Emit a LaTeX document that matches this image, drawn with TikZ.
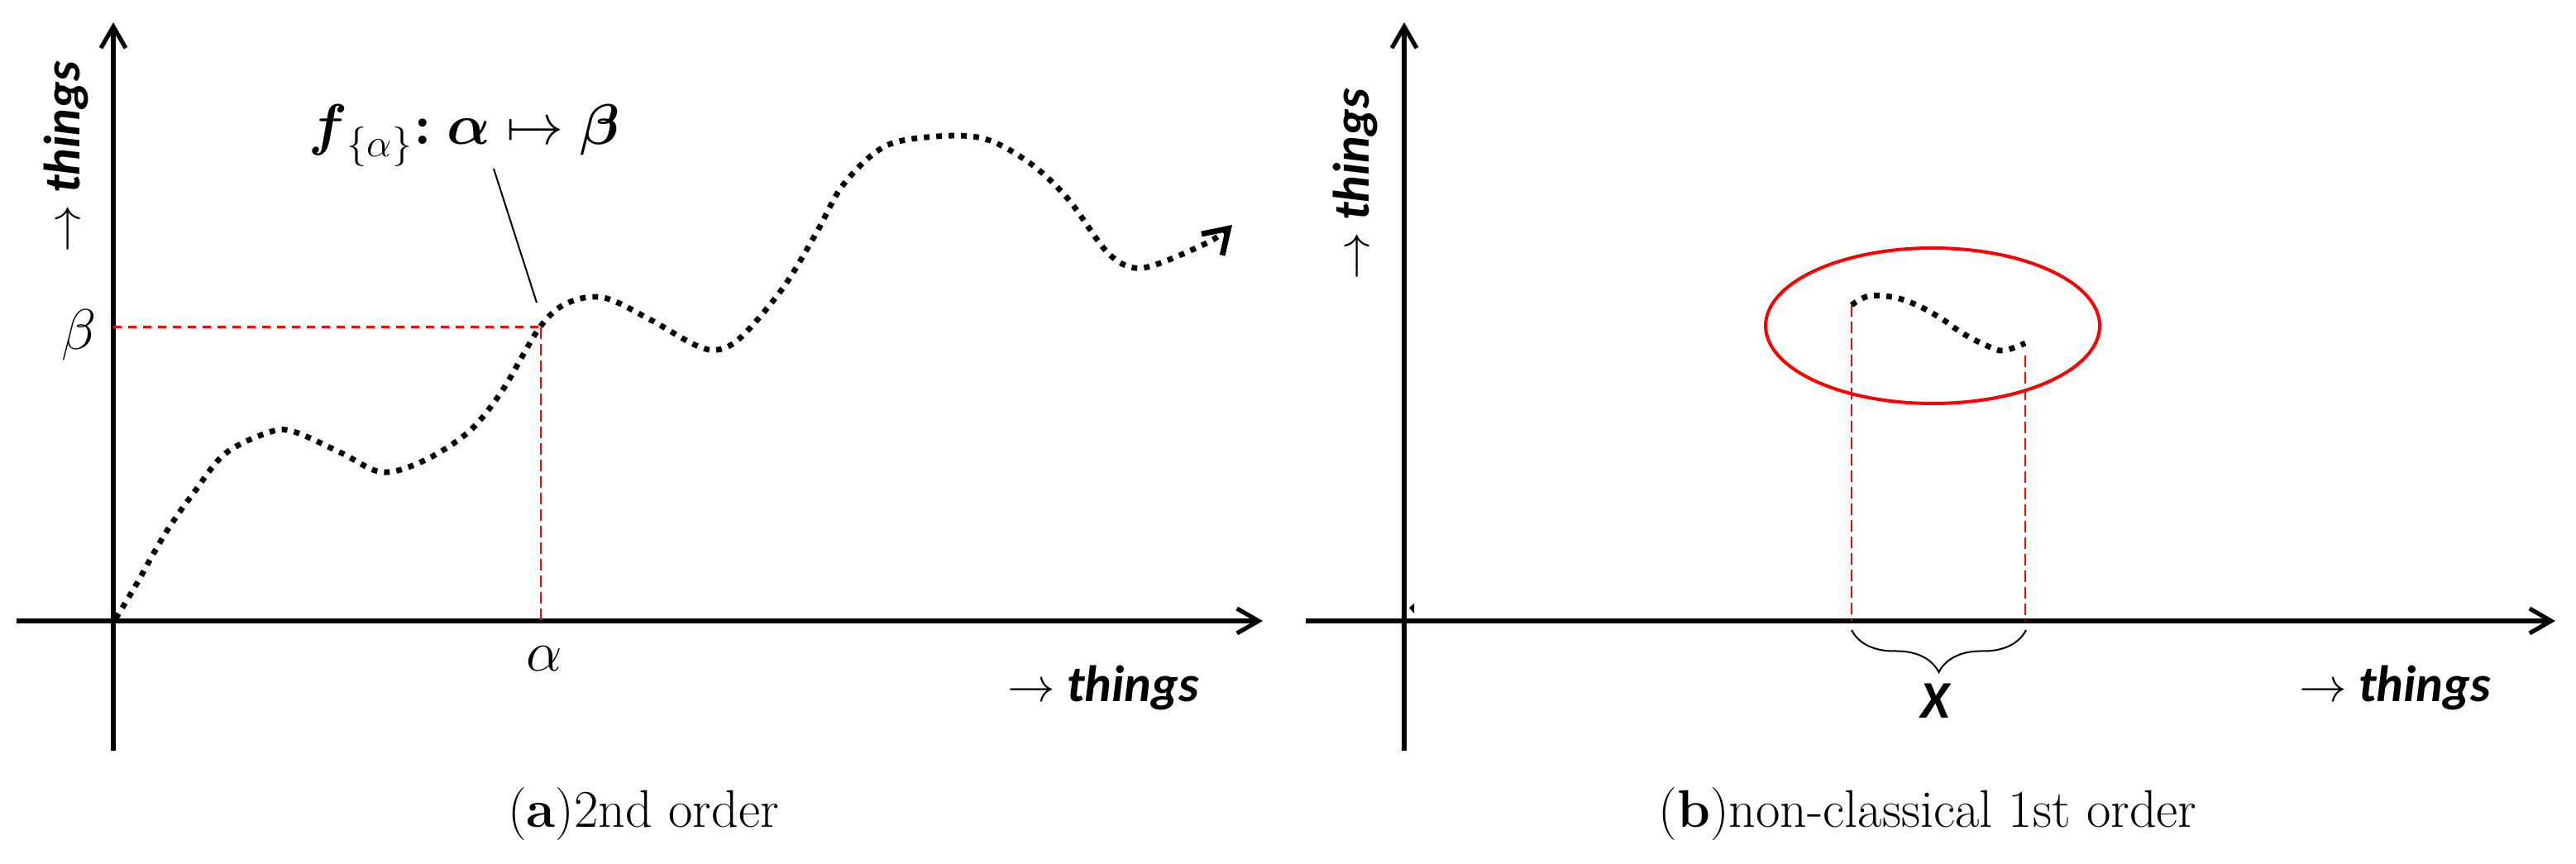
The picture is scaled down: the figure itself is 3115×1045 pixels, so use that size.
\documentclass[tikz,border=0pt]{standalone}
\usepackage{fontspec}
\usepackage{amsmath}
\usetikzlibrary{arrows.meta,decorations.pathreplacing}
\newfontfamily\carlito{Carlito}
\begin{document}
\begin{tikzpicture}[x=0.25pt,y=-0.25pt,
  axis/.style={line width=1.3pt,-{Straight Barb[length=6.5pt,width=7.5pt]}},
  dotcurve/.style={line width=1.7pt,dash pattern=on 1.7pt off 2.05pt},
  reddash/.style={red,line width=0.75pt,dash pattern=on 2.5pt off 2pt},
  redvert/.style={red,line width=0.6pt,dash pattern=on 3.5pt off 1.5pt},
  lbl/.style={font={\fontsize{15.5}{18}\selectfont\carlito\bfseries\itshape},inner sep=0pt},
  greek/.style={font={\fontsize{16}{19}\selectfont},inner sep=0pt},
  captext/.style={font={\fontsize{16}{19}\selectfont},inner sep=0pt}]
\useasboundingbox (0,0) rectangle (3115,1045);

% ---------- panel (a) ----------
\coordinate (ayb) at (137,908);
\coordinate (ayt) at (137,27);
\coordinate (axl) at (20,751);
\coordinate (axr) at (1527,751);
\draw[axis] (ayb) -- (ayt);
\draw[axis] (axl) -- (axr);

\coordinate (pt) at (654,396);
\coordinate (pty) at (137,396);
\coordinate (ptx) at (654,751);
\draw[reddash] (pty) -- (pt);
\draw[redvert] (pt) -- (ptx);

\draw[dotcurve,-{Straight Barb[length=7pt,width=9pt]}] plot[smooth,tension=0.55] coordinates {
 (140,748) (163,710) (200,645) (235,595) (273,548) (328,522) (358,523)
 (413,548) (462,571) (513,557) (567,522) (607,473) (652,397) (685,367)
 (730,360) (787,387) (840,417) (868,423) (897,407) (947,348) (987,282)
 (1020,223) (1070,177) (1133,165) (1191,168) (1245,197) (1291,240)
 (1337,303) (1367,323) (1398,320) (1463,292) (1490,272)};

\node[lbl,rotate=90] (tva) at (80,190) {$\rightarrow$ things};
\node[lbl] (tha) at (1334,832) {$\rightarrow$ things};
\node[greek] (beta) at (96,405) {$\beta$};
\node[greek,font={\fontsize{17}{20}\selectfont}] (alpha) at (658,797) {$\alpha$};
\node[font={\fontsize{17}{20}\selectfont},inner sep=0pt] (flab) at (561,164)
  {$\boldsymbol{f}_{\{\alpha\}}{\boldsymbol{:}}\;\boldsymbol{\alpha}\mapsto\boldsymbol{\beta}$};
\coordinate (ls) at (597,204);
\coordinate (le) at (649,366);
\draw[line width=0.5pt] (ls) -- (le);

\node[captext] (capa) at (778,985) {(\textbf{a})2nd order};

% ---------- panel (b) ----------
\coordinate (byb) at (1698,908);
\coordinate (byt) at (1698,27);
\coordinate (bxl) at (1579,751);
\coordinate (bxr) at (3090,751);
\draw[axis] (byb) -- (byt);
\draw[axis] (bxl) -- (bxr);
\fill (1704,735) -- (1710,730) -- (1710,742) -- cycle;

\draw[red,line width=1pt] (2337,394) ellipse [x radius=202, y radius=94];

\coordinate (c1) at (2239,369);
\coordinate (c2) at (2449,430);
\coordinate (c1x) at (2239,751);
\coordinate (c2x) at (2449,751);
\draw[redvert,line width=0.7pt] (c1) -- (c1x);
\draw[redvert,line width=0.5pt] (c2) -- (c2x);

\draw[dotcurve] plot[smooth,tension=0.6] coordinates {
 (2239,369) (2260,358) (2292,360) (2320,370) (2347,385) (2373,403)
 (2400,417) (2422,424) (2449,415)};

\coordinate (bl) at (2239,762);
\coordinate (br) at (2450,762);
\draw[decorate,decoration={brace,mirror,amplitude=12.75pt},line width=0.5pt] (bl) -- (br);
\node[font={\fontsize{16}{19}\selectfont\carlito\bfseries\itshape},inner sep=0pt] (X) at (2340,848) {X};

\node[lbl,rotate=90] (tvb) at (1639,223) {$\rightarrow$ things};
\node[lbl] (thb) at (2896,832) {$\rightarrow$ things};

\node[captext] (capb) at (2331,985) {(\textbf{b})non-classical 1st order};
\end{tikzpicture}
\end{document}
